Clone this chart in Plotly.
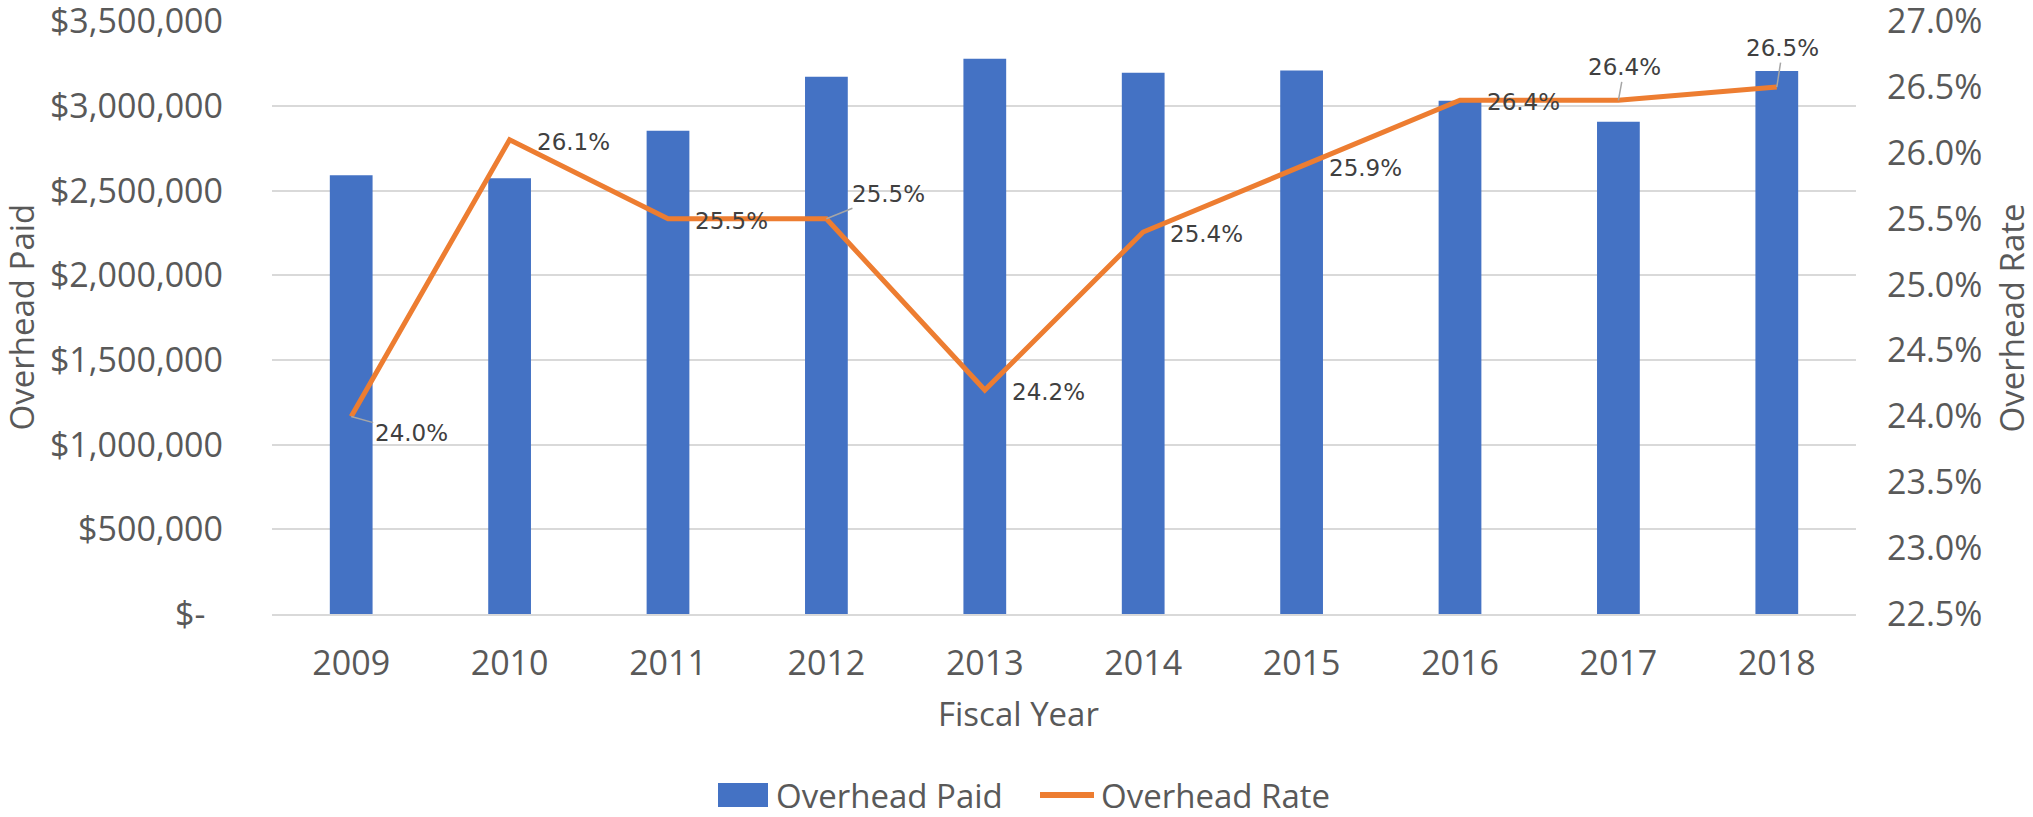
import plotly.graph_objects as go

# Fiscal years and the two series
years = [2009, 2010, 2011, 2012, 2013, 2014, 2015, 2016, 2017, 2018]
overhead_paid = [2590000, 2573000, 2854000, 3172000, 3278000, 3196000, 3209000, 3030000, 2907000, 3206000]
overhead_rate = [24.0, 26.1, 25.5, 25.5, 24.2, 25.4, 25.9, 26.4, 26.4, 26.5]

paid_ticks = [0, 500000, 1000000, 1500000, 2000000, 2500000, 3000000, 3500000]
rate_ticks = [22.5, 23.0, 23.5, 24.0, 24.5, 25.0, 25.5, 26.0, 26.5, 27.0]

# accounting style: zero shows as "$-" with trailing padding
paid_ticktext = ["$-\u00a0\u00a0" if v == 0 else f"${v:,.0f}" for v in paid_ticks]
rate_ticktext = [f"{v:.1f}%" for v in rate_ticks]

BLUE = "#4472C4"
ORANGE = "#ED7D31"
TICK_GREY = "#595959"
GRID = "#D9D9D9"
TICK_FONT = dict(family="Open Sans", size=34, color=TICK_GREY)
LABEL_FONT = dict(family="DejaVu Sans", size=23, color="#404040")

# plot area in pixels (used to place the titles and legend in paper units)
L, R, T, B = 272, 177, 21, 203
W, H = 2033, 817
PW, PH = W - L - R, H - T - B


def px_x(x):
    return (x - L) / PW


def px_y(y):
    return (H - B - y) / PH


fig = go.Figure()

fig.add_trace(go.Bar(
    x=years,
    y=overhead_paid,
    name="Overhead Paid",
    marker=dict(color=BLUE, line=dict(width=0)),
    width=0.27,
    showlegend=False,
))

fig.add_trace(go.Scatter(
    x=years,
    y=overhead_rate,
    name="Overhead Rate",
    mode="lines",
    line=dict(color=ORANGE, width=5),
    yaxis="y2",
    showlegend=False,
))

# Data labels for the rate line: most sit to the right, a few were dragged and have leader lines
leader = {
    2009: (60, 17),
    2012: (62, -25),
    2017: (6, -33),
    2018: (6, -39),
}
for yr, rate in zip(years, overhead_rate):
    txt = f"{rate:.1f}%"
    if yr in leader:
        ax, ay = leader[yr]
        fig.add_annotation(
            x=yr, y=rate, xref="x", yref="y2", text=txt, font=LABEL_FONT,
            showarrow=True, arrowhead=0, arrowwidth=1.5, arrowcolor="#A6A6A6",
            ax=ax, ay=ay, standoff=0,
        )
    else:
        fig.add_annotation(
            x=yr, y=rate, xref="x", yref="y2", text=txt, font=LABEL_FONT,
            showarrow=False, xanchor="left", yanchor="middle", xshift=25, yshift=-2,
        )

# Axis titles
title_font = dict(family="Open Sans", size=33, color=TICK_GREY)
fig.add_annotation(text="Overhead Paid", xref="paper", yref="paper", x=px_x(21), y=0.5,
                   xanchor="center", yanchor="middle", textangle=-90, showarrow=False, font=title_font)
fig.add_annotation(text="Overhead Rate", xref="paper", yref="paper", x=px_x(2011), y=0.5,
                   xanchor="center", yanchor="middle", textangle=-90, showarrow=False, font=title_font)
fig.add_annotation(text="Fiscal Year", xref="paper", yref="paper", x=px_x(1018), y=px_y(713),
                   xanchor="center", yanchor="middle", showarrow=False, font=title_font)

# Legend drawn like Excel's: wide swatch for the bars, short thick line for the rate
fig.add_shape(type="rect", xref="paper", yref="paper",
              x0=px_x(718), x1=px_x(768), y0=px_y(807), y1=px_y(783),
              fillcolor=BLUE, line=dict(width=0))
fig.add_annotation(text="Overhead Paid", xref="paper", yref="paper", x=px_x(774), y=px_y(795),
                   xanchor="left", yanchor="middle", showarrow=False, font=title_font)
fig.add_shape(type="line", xref="paper", yref="paper",
              x0=px_x(1040), x1=px_x(1094), y0=px_y(795), y1=px_y(795),
              line=dict(color=ORANGE, width=6))
fig.add_annotation(text="Overhead Rate", xref="paper", yref="paper", x=px_x(1099), y=px_y(795),
                   xanchor="left", yanchor="middle", showarrow=False, font=title_font)

fig.update_layout(
    width=W,
    height=H,
    margin=dict(l=L, r=R, t=T, b=B),
    paper_bgcolor="white",
    plot_bgcolor="white",
    showlegend=False,
    xaxis=dict(
        range=[2008.5, 2018.5],
        tickvals=years,
        ticktext=[str(y) for y in years],
        tickfont=TICK_FONT,
        showgrid=False,
        showline=True,
        linecolor=GRID,
        linewidth=1.5,
        zeroline=False,
        ticks="",
        ticklabelstandoff=18,
        automargin=False,
    ),
    yaxis=dict(
        range=[0, 3500000 * 1.0004],
        tickvals=paid_ticks,
        ticktext=paid_ticktext,
        tickfont=TICK_FONT,
        showgrid=True,
        gridcolor=GRID,
        gridwidth=1.5,
        zeroline=False,
        ticks="",
        ticklabelstandoff=48,
        ticklabeloverflow="allow",
        automargin=False,
    ),
    yaxis2=dict(
        overlaying="y",
        side="right",
        range=[22.5, 27.0 + 4.5 * 0.0004],
        tickvals=rate_ticks,
        ticktext=rate_ticktext,
        tickfont=TICK_FONT,
        showgrid=False,
        zeroline=False,
        ticks="",
        ticklabelstandoff=30,
        ticklabeloverflow="allow",
        automargin=False,
    ),
)

# drop the default 8px page margin so the figure sits flush in the window
fig.write_html(
    "out.html",
    config={"displayModeBar": False},
    post_script="document.body.style.margin='0px';",
)
